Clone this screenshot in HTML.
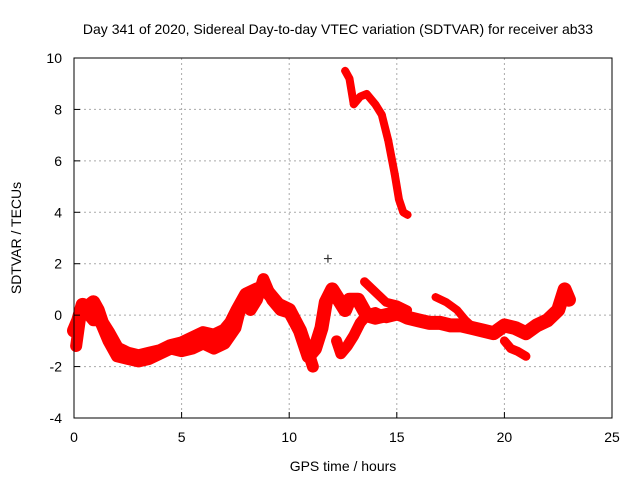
<!DOCTYPE html>
<html><head><meta charset="utf-8"><style>
body{margin:0;background:#fff}
svg{display:block;font-family:"Liberation Sans",sans-serif}
</style></head><body>
<svg id="c" width="640" height="480">
<text x="338" y="34" font-size="14" text-anchor="middle">Day 341 of 2020, Sidereal Day-to-day VTEC variation (SDTVAR) for receiver ab33</text>
<text x="343" y="471" font-size="14" text-anchor="middle">GPS time / hours</text>
<text x="21" y="238" font-size="14" text-anchor="middle" transform="rotate(-90 21 238)">SDTVAR / TECUs</text>
<g id="grid"></g><g id="marks"></g>
<rect x="74" y="58" width="538" height="360" fill="none" stroke="#000"/>
<g id="axes"></g>
</svg>
<script>
const xTicks=[0,5,10,15,20,25];
const yTicks=[-4,-2,0,2,4,6,8,10];
const lowT=[0,0.2,0.4,0.6,0.9,1.1,1.3,1.6,2.0,2.5,3.0,3.5,4.0,4.5,5.0,5.5,6.0,6.5,7.0,7.3,7.6,8.0,8.5,9.0,9.5,10.0,10.5,10.9,11.2,11.5,11.7,12.0,12.3,12.6,12.8,13.2,13.6,14.0,14.5,15.0,15.5,16.0,16.5,17.0,17.5,18.0,18.5,19.0,19.5,20.0,20.5,21.0,21.5,22.0,22.5,22.8,23.0];
const lowV=[-0.6,-0.2,0.4,0.3,0.5,0.2,-0.3,-0.7,-1.3,-1.5,-1.6,-1.5,-1.4,-1.2,-1.1,-0.9,-0.7,-0.8,-0.6,-0.3,0.2,0.8,1.0,0.9,0.4,0.2,-0.6,-1.6,-1.3,-0.5,0.5,1.0,0.6,0.2,0.6,0.6,0.0,-0.1,0.0,0.1,-0.1,-0.2,-0.3,-0.3,-0.4,-0.4,-0.5,-0.6,-0.7,-0.4,-0.5,-0.7,-0.4,-0.2,0.2,1.0,0.6];
const band2T=[0.1,0.3,0.6,0.9,1.2,1.6,2.0,2.5,3.0,3.5,4.0,4.5,5.0,5.5,6.0,6.5,7.0,7.5,7.8,8.2,8.5,8.8,9.2,9.6,10.0,10.4,10.8,11.1];
const band2V=[-1.2,0.0,0.1,-0.2,-0.2,-1.0,-1.6,-1.7,-1.8,-1.7,-1.5,-1.3,-1.4,-1.3,-1.1,-1.3,-1.1,-0.5,0.5,0.2,0.6,1.4,0.6,0.2,0.1,-0.5,-1.2,-2.0];
const midT=[12.2,12.4,12.7,13.0,13.3,13.6,14.0,14.5,15.0,15.5];
const midV=[-1.0,-1.5,-1.2,-0.8,-0.3,0.0,0.1,-0.1,0.0,-0.1];
const armT=[13.5,14.0,14.5,15.0,15.5];
const armV=[1.3,0.9,0.5,0.4,0.2];
const arm2T=[16.8,17.3,17.8,18.2,18.6];
const arm2V=[0.7,0.5,0.2,-0.2,-0.5];
const arm3T=[20.0,20.3,20.6,21.0];
const arm3V=[-1.0,-1.3,-1.4,-1.6];
const highT=[12.6,12.8,13.0,13.3,13.6,14.0,14.3,14.6,14.9,15.1,15.3,15.5];
const highV=[9.5,9.2,8.2,8.5,8.6,8.2,7.8,6.8,5.5,4.5,4.0,3.9];
const outlierT=[11.8];const outlierV=[2.2];
const X=t=>74+t*538/25, Y=v=>418-(v+4)*360/14;
const NS="http://www.w3.org/2000/svg";
function mk(tag,a,p){const e=document.createElementNS(NS,tag);for(const k in a)e.setAttribute(k,a[k]);p.appendChild(e);return e;}
const grid=document.getElementById('grid'),axes=document.getElementById('axes'),marks=document.getElementById('marks');
xTicks.forEach(t=>{const x=X(t);
 if(t>0&&t<25){const l=mk('line',{x1:x,x2:x,y1:58,y2:418,stroke:'#aaa','stroke-dasharray':'2,3'},grid);}
 mk('line',{x1:x,x2:x,y1:418,y2:412,stroke:'#000'},axes);
 const tx=mk('text',{x:x,y:442,'font-size':14,'text-anchor':'middle'},axes);tx.textContent=t;
 });
yTicks.forEach(v=>{const y=Y(v);
 if(v>-4&&v<10){const l=mk('line',{x1:74,x2:612,y1:y,y2:y,stroke:'#aaa','stroke-dasharray':'2,3'},grid);}
 mk('line',{x1:74,x2:80,y1:y,y2:y,stroke:'#000'},axes);
 const tx=mk('text',{x:62,y:y+5,'font-size':14,'text-anchor':'end'},axes);tx.textContent=v;
 });
function series(T,V,name,w,col){
 const g=mk('g',{},marks);
 
 
 if(T.length>1){mk('polyline',{points:T.map((t,i)=>X(t)+','+Y(V[i])).join(' '),fill:'none',stroke:col,'stroke-width':w,'stroke-linejoin':'round','stroke-linecap':'round'},g);}
 T.forEach((t,i)=>{const x=X(t),y=Y(V[i]);mk('path',{d:`M${x-4},${y}h8M${x},${y-4}v8`,stroke:col,'stroke-width':1.2},g);});
}
series(lowT,lowV,'sdtvar-main-band',14,'#f00');
series(band2T,band2V,'sdtvar-second-band',12,'#f00');
series(midT,midV,'sdtvar-mid-branch',11,'#f00');
series(armT,armV,'sdtvar-arm-1',9,'#f00');
series(arm2T,arm2V,'sdtvar-arm-2',8,'#f00');
series(arm3T,arm3V,'sdtvar-arm-3',9,'#f00');
series(highT,highV,'sdtvar-high-branch',8,'#f00');
series(outlierT,outlierV,'sdtvar-outlier',1,'#333');
</script>
</body></html>
